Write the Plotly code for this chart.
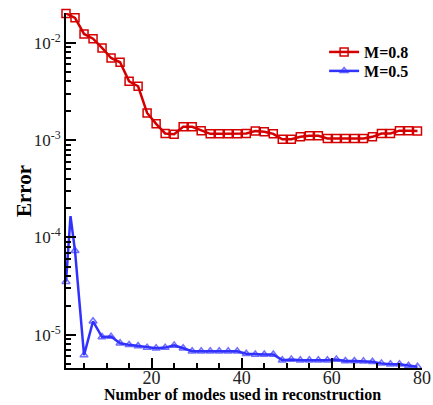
import plotly.graph_objects as go

# Data
modes_red = [1, 3, 5, 7, 9, 11, 13, 15, 17, 19, 21, 23, 25, 27, 29, 31, 33, 35, 37, 39,
             41, 43, 45, 47, 49, 51, 53, 55, 57, 59, 61, 63, 65, 67, 69, 71, 73, 75, 77, 79]
err_m08 = [0.0200, 0.0180, 0.0123, 0.0110, 0.00883, 0.00697, 0.0063, 0.00402, 0.00357, 0.0019,
           0.00147, 0.00117, 0.00115, 0.00137, 0.00137, 0.00125, 0.00116, 0.00116, 0.00116, 0.00116,
           0.00117, 0.00124, 0.00122, 0.00116, 0.00102, 0.00102, 0.00108, 0.00111, 0.00111, 0.00104,
           0.00104, 0.00104, 0.00104, 0.00104, 0.00108, 0.00117, 0.00117, 0.00125, 0.00125, 0.00124]

modes_blue = [1, 2, 3, 5, 7, 9, 11, 13, 15, 17, 19, 21, 23, 25, 27, 29, 31, 33, 35, 37, 39,
              41, 43, 45, 47, 49, 51, 53, 55, 57, 59, 61, 63, 65, 67, 69, 71, 73, 75, 77, 79]
err_m05 = [3.52e-5, 1.66e-4, 7.3e-5, 6.2e-6, 1.38e-5, 9.5e-6, 9.6e-6, 8.2e-6, 7.9e-6, 7.7e-6,
           7.4e-6, 7.3e-6, 7.4e-6, 7.8e-6, 7.3e-6, 6.8e-6, 6.8e-6, 6.8e-6, 6.8e-6, 6.8e-6, 6.8e-6,
           6.4e-6, 6.3e-6, 6.3e-6, 6.3e-6, 5.5e-6, 5.6e-6, 5.5e-6, 5.5e-6, 5.5e-6, 5.5e-6,
           5.6e-6, 5.4e-6, 5.4e-6, 5.35e-6, 5.3e-6, 5.1e-6, 5.0e-6, 5.0e-6, 4.83e-6, 4.7e-6]
# the spike at mode 2 has no marker drawn
blue_marker_sizes = [0 if m == 2 else 7 for m in modes_blue]

y_tickvals = [1e-2, 1e-3, 1e-4, 1e-5]
y_ticktext = ["10<sup>-2</sup>", "10<sup>-3</sup>", "10<sup>-4</sup>", "10<sup>-5</sup>"]
y_minor_tickvals = [m * d for d in (1e-6, 1e-5, 1e-4, 1e-3, 1e-2) for m in range(2, 10)]
x_tickvals = [20, 40, 60, 80]

x_title = "Number of modes used in reconstruction"
y_title = "Error"

RED = "#d40000"
BLUE = "#3232ff"
FONT = "Liberation Serif"

fig = go.Figure()
fig.add_trace(go.Scatter(
    x=modes_red, y=err_m08, name="M=0.8", mode="lines+markers",
    line=dict(color=RED, width=2.5),
    marker=dict(symbol="square-open", size=8, color=RED, line=dict(width=1.5, color=RED)),
    cliponaxis=False, legend="legend",
))
fig.add_trace(go.Scatter(
    x=modes_blue, y=err_m05, name="M=0.5", mode="lines+markers",
    line=dict(color=BLUE, width=2.5),
    marker=dict(symbol="triangle-up-open", size=blue_marker_sizes, color=BLUE,
                line=dict(width=1.5, color=BLUE)),
    cliponaxis=False, legend="legend2",
))

legend_style = dict(
    xanchor="left", yanchor="middle", bgcolor="rgba(0,0,0,0)",
    font=dict(family=FONT, size=16, color="black", weight="bold"),
    itemwidth=30,
)

fig.update_layout(
    width=433, height=405,
    margin=dict(l=66, r=11, t=13, b=37, autoexpand=False),
    paper_bgcolor="white", plot_bgcolor="white",
    font=dict(family=FONT, color="black", size=16),
    showlegend=True,
    legend=dict(x=0.725, y=0.890, **legend_style),
    legend2=dict(x=0.725, y=0.8366, **legend_style),
    xaxis=dict(
        range=[1, 80], showgrid=False, zeroline=False, automargin=False,
        showline=True, linecolor="black", linewidth=2,
        ticks="inside", ticklen=10, tickwidth=2, tickcolor="black",
        tickvals=x_tickvals, ticklabelstandoff=-8,
        tickfont=dict(family=FONT, size=18, color="#222"),
        minor=dict(ticks="inside", ticklen=5, tickwidth=1.5, tickcolor="black", dtick=5),
    ),
    yaxis=dict(
        type="log", range=[-5.340, -1.695], showgrid=False, zeroline=False, automargin=False,
        showline=True, linecolor="black", linewidth=2,
        ticks="inside", ticklen=10, tickwidth=2, tickcolor="black",
        tickvals=y_tickvals, ticktext=y_ticktext,
        tickfont=dict(family=FONT, size=17, color="#222"),
        minor=dict(ticks="inside", ticklen=5, tickwidth=1.5, tickcolor="black",
                   tickvals=y_minor_tickvals, showgrid=False),
    ),
    annotations=[
        dict(text="<b>%s</b>" % x_title, xref="paper", yref="paper",
             x=0.497, y=-0.075, xanchor="center", yanchor="middle", showarrow=False,
             font=dict(family=FONT, size=16, color="black")),
        dict(text="<b>%s</b>" % y_title, xref="paper", yref="paper",
             x=-0.118, y=0.4986, xanchor="center", yanchor="middle", showarrow=False,
             textangle=-90, font=dict(family=FONT, size=21, color="black")),
    ],
)

fig.write_html("out.html")
